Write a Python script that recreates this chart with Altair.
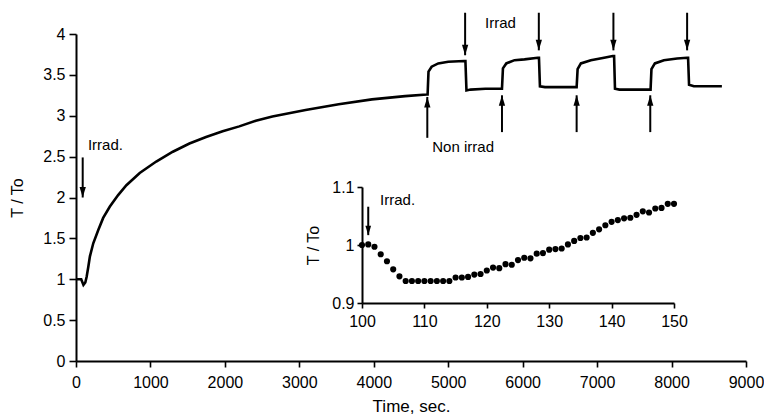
import altair as alt
import pandas as pd

# ---- main trace (time in s, T/To) ----
main_t = [0, 70, 100, 125, 143, 165, 187, 232, 298, 365, 455, 566, 677, 856, 1078, 1301,
          1524, 1747, 1970, 2193, 2415, 2638, 3084, 3529, 3975, 4421, 4710,
          4723, 4735, 4777, 4866, 5000, 5214, 5231, 5245, 5300, 5500, 5715,
          5722, 5735, 5780, 5891, 6024, 6203, 6219, 6232, 6300, 6500, 6715,
          6725, 6738, 6782, 6916, 7094, 7210, 7228, 7240, 7300, 7500, 7714,
          7718, 7730, 7776, 7897, 8075, 8209, 8222, 8235, 8300, 8500, 8676]
main_v = [1.0, 1.0, 0.93, 0.96, 1.03, 1.15, 1.28, 1.44, 1.60, 1.75, 1.89, 2.03, 2.15, 2.30, 2.44, 2.56,
          2.66, 2.74, 2.81, 2.87, 2.94, 2.99, 3.07, 3.14, 3.20, 3.24, 3.26,
          3.26, 3.54, 3.60, 3.64, 3.66, 3.67, 3.67, 3.31, 3.32, 3.33, 3.33,
          3.33, 3.58, 3.64, 3.68, 3.69, 3.71, 3.71, 3.36, 3.35, 3.35, 3.35,
          3.35, 3.57, 3.64, 3.68, 3.71, 3.73, 3.73, 3.33, 3.32, 3.32, 3.32,
          3.32, 3.57, 3.64, 3.68, 3.70, 3.71, 3.71, 3.38, 3.36, 3.36, 3.36]

# ---- arrows on main plot: time, start value, tip value, direction ----
arrow_t = [90, 5227, 6217, 7219, 8209, 4719, 5722, 6725, 7714]
arrow_from = [2.49, 4.26, 4.26, 4.26, 4.26, 2.73, 2.80, 2.80, 2.80]
arrow_to = [2.00, 3.74, 3.80, 3.80, 3.80, 3.23, 3.25, 3.25, 3.25]
arrow_dir = ["down", "down", "down", "down", "down", "up", "up", "up", "up"]

# ---- annotations on main plot ----
note_text = ["Irrad.", "Irrad", "Non irrad"]
note_t = [160, 5495, 4786]
note_v = [2.64, 4.13, 2.62]

# ---- inset (t = 100..150 s) ----
inset_t = list(range(100, 151))
inset_v = [1.000, 1.001, 0.997, 0.984, 0.972, 0.958, 0.946, 0.938, 0.938, 0.938,
           0.938, 0.938, 0.938, 0.938, 0.938, 0.944, 0.944, 0.945, 0.949, 0.950,
           0.956, 0.961, 0.960, 0.967, 0.966, 0.974, 0.978, 0.977, 0.985, 0.986,
           0.992, 0.993, 0.994, 1.001, 1.007, 1.012, 1.013, 1.021, 1.027, 1.034,
           1.040, 1.043, 1.046, 1.047, 1.052, 1.058, 1.056, 1.063, 1.064, 1.071, 1.071]
inset_arrow_t = [101]
inset_arrow_from = [1.066]
inset_arrow_to = [1.017]
inset_note = ["Irrad."]
inset_note_t = [102.9]
inset_note_v = [1.078]

FONT = "Liberation Sans"
DOWN = "M -0.6 -2 L 0.6 -2 L 0 0 Z"
UP = "M -0.6 2 L 0.6 2 L 0 0 Z"

main_df = pd.DataFrame({"t": main_t, "v": main_v})
arr_df = pd.DataFrame({"t": arrow_t, "a": arrow_from, "b": arrow_to, "d": arrow_dir})
note_df = pd.DataFrame({"txt": note_text, "t": note_t, "v": note_v})
inset_df = pd.DataFrame({"t": inset_t, "v": inset_v})
iarr_df = pd.DataFrame({"t": inset_arrow_t, "a": inset_arrow_from, "b": inset_arrow_to})
inote_df = pd.DataFrame({"txt": inset_note, "t": inset_note_t, "v": inset_note_v})

W, H = 670, 327

xs = alt.Scale(domain=[0, 9000], nice=False)
ys = alt.Scale(domain=[0, 4], nice=False)
xax = alt.Axis(values=list(range(0, 9001, 1000)), format="d", title="Time, sec.", tickSize=6,
               titlePadding=8, labelPadding=7, titleFontSize=17)
yax = alt.Axis(values=[0, 0.5, 1, 1.5, 2, 2.5, 3, 3.5, 4], format="~g", title="T / To",
               tickSize=7, titlePadding=17, labelPadding=4)

line = alt.Chart(main_df).mark_line(color="black", strokeWidth=2.6).encode(
    x=alt.X("t:Q", scale=xs, axis=xax),
    y=alt.Y("v:Q", scale=ys, axis=yax),
)
shafts = alt.Chart(arr_df).mark_rule(color="black", strokeWidth=2).encode(
    x="t:Q", y="a:Q", y2="b:Q")
heads_down = alt.Chart(arr_df).transform_filter(alt.datum.d == "down").mark_point(
    shape=DOWN, filled=True, color="black", opacity=1, size=110, strokeWidth=0).encode(
    x="t:Q", y="b:Q")
heads_up = alt.Chart(arr_df).transform_filter(alt.datum.d == "up").mark_point(
    shape=UP, filled=True, color="black", opacity=1, size=110, strokeWidth=0).encode(
    x="t:Q", y="b:Q")
notes = alt.Chart(note_df).mark_text(align="left", baseline="middle", font=FONT,
                                      fontSize=15, color="black").encode(
    x="t:Q", y="v:Q", text="txt:N")

main = alt.layer(line, shafts, heads_down, heads_up, notes)

ixs = alt.Scale(domain=[100, 150], nice=False, range=[286, 598])
iys = alt.Scale(domain=[0.9, 1.1], nice=False, zero=False, range=[269, 153])
ixax = alt.Axis(orient="bottom", offset=-58, values=list(range(100, 151, 10)), title=None,
                tickSize=5, labelPadding=5)
iyax = alt.Axis(orient="left", offset=-286, values=[0.9, 1.0, 1.1], format="~g",
                title="T / To", tickSize=5, labelPadding=3, titlePadding=10)

ipts = alt.Chart(inset_df).mark_circle(color="black", opacity=1, size=38).encode(
    x=alt.X("t:Q", scale=ixs, axis=ixax),
    y=alt.Y("v:Q", scale=iys, axis=iyax),
)
ishaft = alt.Chart(iarr_df).mark_rule(color="black", strokeWidth=2).encode(
    x="t:Q", y="a:Q", y2="b:Q")
ihead = alt.Chart(iarr_df).mark_point(shape=DOWN, filled=True, color="black", opacity=1,
                                       size=90, strokeWidth=0).encode(x="t:Q", y="b:Q")
inote = alt.Chart(inote_df).mark_text(align="left", baseline="middle", font=FONT,
                                       fontSize=15, color="black").encode(
    x="t:Q", y="v:Q", text="txt:N")

inset = alt.layer(ipts, ishaft, ihead, inote)

chart = alt.layer(main, inset).resolve_scale(x="independent", y="independent").properties(
    width=W, height=H,
    padding={"left": 76, "top": 34, "right": 764 - 76 - W, "bottom": 53},
    autosize=alt.AutoSizeParams(type="none"),
    background="white",
).configure_view(strokeWidth=0).configure_axis(
    grid=False, domainColor="black", domainWidth=2, tickColor="black", tickWidth=1.6,
    labelColor="black", titleColor="black", labelFont=FONT, titleFont=FONT,
    labelFontSize=16, titleFontSize=16, titleFontWeight="normal",
    labelFlush=False, labelOverlap=False,
)

chart.save("out.html", embed_options={"renderer": "svg", "actions": False})
